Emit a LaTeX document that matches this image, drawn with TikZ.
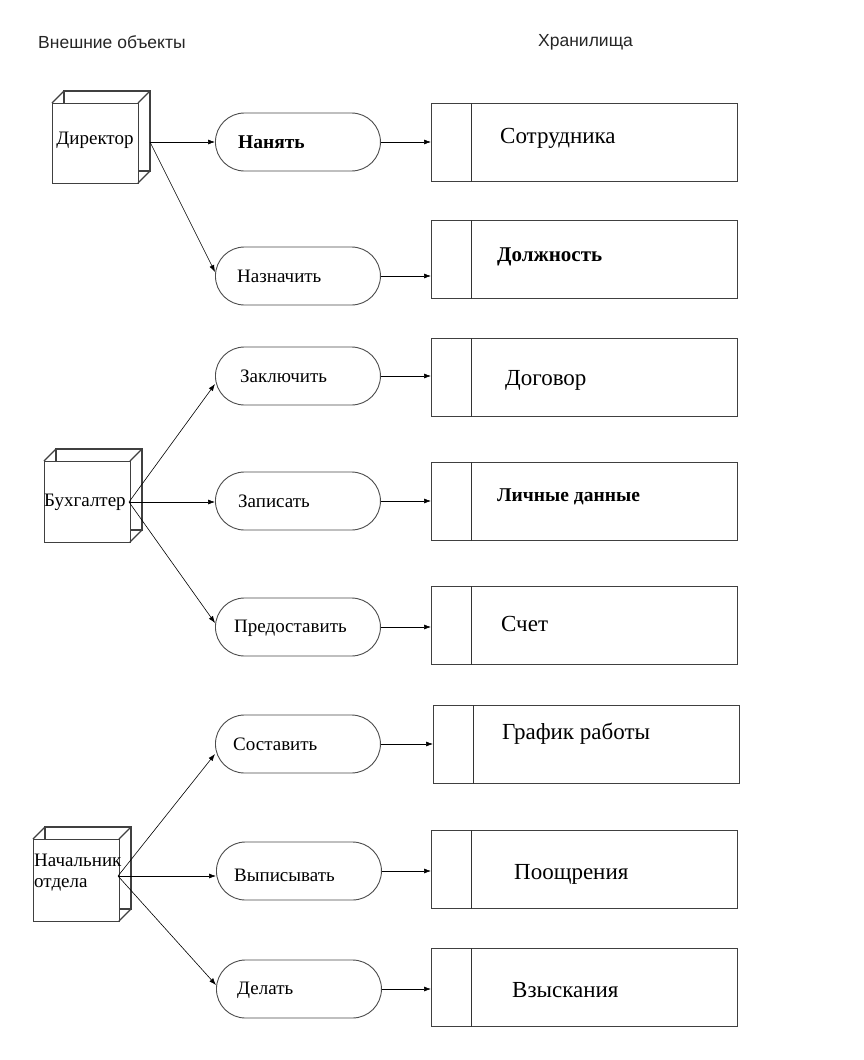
\documentclass[tikz,border=0pt]{standalone}
\usepackage{fontspec}
\setmainfont{Liberation Serif}
\newfontfamily\headfont{Liberation Sans}
\usetikzlibrary{arrows.meta}
\tikzset{
  x=1pt, y=-1pt,
  boxline/.style={draw=black!75, line width=1.3pt},
  pill/.style={draw=black!70, line width=0.9pt, rectangle, rounded corners=29pt,
    minimum width=165pt, minimum height=58pt, anchor=west, inner sep=0pt},
  ptext/.style={anchor=west, inner sep=0pt, font=\fontsize{19}{21}\selectfont},
  store/.style={boxline, rectangle, minimum width=306pt, minimum height=78pt, anchor=north west, inner sep=0pt},
  stext/.style={anchor=west, inner sep=0pt, font=\fontsize{23}{25}\selectfont},
  ctext/.style={inner sep=0pt, font=\fontsize{19}{21}\selectfont, align=left},
  arr/.style={-{Latex[length=7pt,width=5pt]}, line width=0.6pt, black},
  head/.style={anchor=west, inner sep=0pt, font=\headfont\fontsize{17.5}{19}\selectfont, text=black!85}
}
\newcommand{\mycube}[5]{% name, x0, y0, x1, y1
  \draw[boxline] (#2+12,#3-12) rectangle (#4+12,#5-12);
  \node[boxline, fill=white, rectangle, inner sep=0pt, anchor=north west,
    minimum width=#4-#2, minimum height=#5-#3] (#1) at (#2,#3) {};
  \draw[boxline] (#2,#3) -- (#2+12,#3-12);
  \draw[boxline] (#4,#3) -- (#4+12,#3-12);
  \draw[boxline] (#4,#5) -- (#4+12,#5-12);
}
\newcommand{\mystore}[3]{% name, x, y
  \node[store] (#1) at (#2,#3) {};
  \draw[black!80, line width=1pt] ([xshift=40pt]#1.north west) -- ([xshift=40pt]#1.south west);
}
\begin{document}
\begin{tikzpicture}
\useasboundingbox (0,0) rectangle (863,1060);
\fill[white] (0,0) rectangle (863,1060);

% headings
\node[head] (h1) at (38,42) {Внешние объекты};
\node[head] (h2) at (538,42) {Хранилища};

% external entities
\mycube{dir}{52}{103}{138}{183}
\node[ctext] (dirt) at (95,140) {Директор};
\mycube{buh}{44}{461}{130}{542}
\node[ctext, anchor=west] (buht) at (44,502) {Бухгалтер};
\mycube{nach}{33}{839}{119}{921}
\node[ctext, anchor=west, font=\fontsize{19}{21}\selectfont] (nacht) at (34,873) {Начальник\\отдела};

\coordinate (dirout) at (150,142);
\coordinate (buhout) at (129,502);
\coordinate (nachout) at (118,876);

% processes
\node[pill] (p1) at (215,142) {};
\node[ptext, font=\bfseries\fontsize{19.5}{21}\selectfont] (q1) at (238,142) {Нанять};
\node[pill] (p2) at (215,276) {};
\node[ptext] (q2) at (237,276) {Назначить};
\node[pill] (p3) at (215,376) {};
\node[ptext] (q3) at (240,376) {Заключить};
\node[pill] (p4) at (215,501) {};
\node[ptext] (q4) at (238,501) {Записать};
\node[pill] (p5) at (215,627) {};
\node[ptext] (q5) at (234,628) {Предоставить};
\node[pill] (p6) at (215,744) {};
\node[ptext] (q6) at (233,744) {Составить};
\node[pill] (p7) at (216,871) {};
\node[ptext] (q7) at (234,875) {Выписывать};
\node[pill] (p8) at (216,989) {};
\node[ptext] (q8) at (237,990) {Делать};

% stores
\mystore{s1}{431}{103}
\node[stext] (t1) at (500,138) {Сотрудника};
\mystore{s2}{431}{220}
\node[stext, font=\bfseries\fontsize{21}{23}\selectfont] (t2) at (497,257) {Должность};
\mystore{s3}{431}{338}
\node[stext] (t3) at (505,380) {Договор};
\mystore{s4}{431}{462}
\node[stext, font=\bfseries\fontsize{19.5}{21}\selectfont] (t4) at (497,497) {Личные данные};
\mystore{s5}{431}{586}
\node[stext] (t5) at (501,624) {Счет};
\mystore{s6}{433}{705}
\node[stext] (t6) at (502,734) {График работы};
\mystore{s7}{431}{830}
\node[stext] (t7) at (514,874) {Поощрения};
\mystore{s8}{431}{948}
\node[stext] (t8) at (512,990) {Взыскания};

% connectors
\draw[arr] (dirout) -- (p1.west);
\draw[arr] (dirout) -- ([yshift=4pt]p2.west);
\draw[arr] (buhout) -- ([yshift=-8pt]p3.west);
\draw[arr] (buhout) -- (buhout -| p4.west);
\draw[arr] (buhout) -- ([yshift=4pt]p5.west);
\draw[arr] (nachout) -- ([yshift=-10pt]p6.west);
\draw[arr] (nachout) -- (nachout -| p7.west);
\draw[arr] (nachout) -- ([yshift=4pt]p8.west);

\draw[arr] (p1.east) -- (p1.east -| s1.west);
\draw[arr] (p2.east) -- (p2.east -| s2.west);
\draw[arr] (p3.east) -- (p3.east -| s3.west);
\draw[arr] (p4.east) -- (p4.east -| s4.west);
\draw[arr] (p5.east) -- (p5.east -| s5.west);
\draw[arr] (p6.east) -- (p6.east -| s6.west);
\draw[arr] (p7.east) -- (p7.east -| s7.west);
\draw[arr] (p8.east) -- (p8.east -| s8.west);
\end{tikzpicture}
\end{document}
